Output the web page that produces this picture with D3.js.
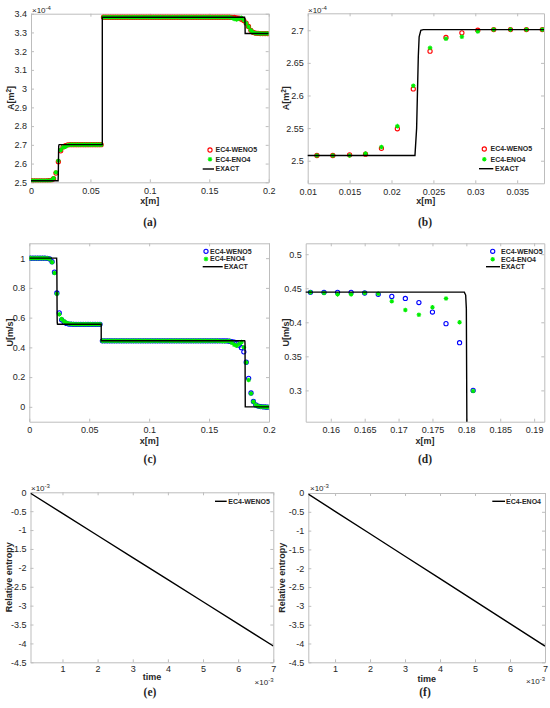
<!DOCTYPE html>
<html>
<head>
<meta charset="utf-8">
<script src="https://cdn.jsdelivr.net/npm/d3@7"></script>
<style>
body { margin: 0; background: #fff; }
svg text { font-family: "Liberation Sans", Arial, sans-serif; fill: #262626; }
.axis path, .axis line { stroke: #bdbdbd; }
</style>
</head>
<body>
<div id="chart"></div>
<script>

// mesh: 100 cells on a 0.2 m tube, values sampled at cell centres
const nCells = 100, tubeLength = 0.2;
const xCells = d3.range(nCells).map(k => (k + 0.5) * tubeLength / nCells);

// A [x1e-4 m^2]
const areaWeno5 = [
	2.508, 2.508, 2.508, 2.508, 2.508, 2.508, 2.508, 2.509, 2.510, 2.519,
	2.549, 2.610, 2.668, 2.689, 2.696, 2.700, 2.701, 2.701, 2.701, 2.701,
	2.701, 2.701, 2.701, 2.701, 2.701, 2.701, 2.701, 2.701, 2.701, 2.701,
	3.381, 3.381, 3.381, 3.381, 3.381, 3.381, 3.381, 3.381, 3.381, 3.381,
	3.381, 3.381, 3.381, 3.381, 3.381, 3.381, 3.381, 3.381, 3.381, 3.381,
	3.381, 3.381, 3.381, 3.381, 3.381, 3.381, 3.381, 3.381, 3.381, 3.381,
	3.381, 3.381, 3.381, 3.381, 3.381, 3.381, 3.381, 3.381, 3.381, 3.381,
	3.381, 3.381, 3.381, 3.381, 3.381, 3.381, 3.381, 3.381, 3.381, 3.381,
	3.381, 3.381, 3.381, 3.381, 3.380, 3.380, 3.378, 3.376, 3.371, 3.364,
	3.350, 3.332, 3.311, 3.300, 3.296, 3.295, 3.294, 3.294, 3.294, 3.294
];
const areaEno4 = [
	2.508, 2.508, 2.508, 2.508, 2.508, 2.508, 2.508, 2.508, 2.511, 2.521,
	2.553, 2.615, 2.673, 2.687, 2.690, 2.698, 2.701, 2.701, 2.701, 2.701,
	2.701, 2.701, 2.701, 2.701, 2.701, 2.701, 2.701, 2.701, 2.701, 2.701,
	3.381, 3.381, 3.381, 3.381, 3.381, 3.381, 3.381, 3.381, 3.381, 3.381,
	3.381, 3.381, 3.381, 3.381, 3.381, 3.381, 3.381, 3.381, 3.381, 3.381,
	3.381, 3.381, 3.381, 3.381, 3.381, 3.381, 3.381, 3.381, 3.381, 3.381,
	3.381, 3.381, 3.381, 3.381, 3.381, 3.381, 3.381, 3.381, 3.381, 3.381,
	3.381, 3.381, 3.381, 3.381, 3.381, 3.381, 3.381, 3.381, 3.381, 3.381,
	3.381, 3.381, 3.381, 3.381, 3.378, 3.372, 3.369, 3.373, 3.378, 3.366,
	3.349, 3.330, 3.311, 3.300, 3.296, 3.295, 3.294, 3.294, 3.294, 3.294
];
const areaExactX = [0, 0.0228, 0.0230, 0.0232, 0.0233, 0.0235, 0.0238, 0.06, 0.06, 0.1797, 0.1800, 0.1802, 0.2];
const areaExact  = [2.508, 2.508, 2.550, 2.660, 2.690, 2.700, 2.701, 2.701, 3.381, 3.381, 3.370, 3.294, 3.294];

// zoom of A around the first wave (panel b)
const zoomAX     = [0.0111, 0.0130, 0.0150, 0.0169, 0.0188, 0.0207, 0.0226, 0.0246, 0.0265, 0.0284, 0.0303, 0.0322, 0.0342, 0.0361, 0.0380];
const zoomAWeno5 = [2.508, 2.508, 2.509, 2.510, 2.519, 2.549, 2.610, 2.668, 2.689, 2.696, 2.700, 2.701, 2.701, 2.701, 2.701];
const zoomAEno4  = [2.508, 2.508, 2.508, 2.511, 2.521, 2.553, 2.615, 2.673, 2.687, 2.690, 2.698, 2.701, 2.701, 2.701, 2.701];

// U [m/s]
const velWeno5 = [
	1.000, 1.000, 1.000, 1.000, 1.000, 1.000, 1.000, 0.999, 0.995, 0.976,
	0.906, 0.766, 0.632, 0.585, 0.570, 0.561, 0.557, 0.556, 0.555, 0.555,
	0.555, 0.555, 0.555, 0.555, 0.555, 0.555, 0.555, 0.555, 0.555, 0.555,
	0.444, 0.444, 0.444, 0.444, 0.444, 0.444, 0.444, 0.444, 0.444, 0.444,
	0.444, 0.444, 0.444, 0.444, 0.444, 0.444, 0.444, 0.444, 0.444, 0.444,
	0.444, 0.444, 0.444, 0.444, 0.444, 0.444, 0.444, 0.444, 0.444, 0.444,
	0.444, 0.444, 0.444, 0.444, 0.444, 0.444, 0.444, 0.444, 0.444, 0.444,
	0.444, 0.444, 0.444, 0.444, 0.444, 0.444, 0.444, 0.444, 0.444, 0.444,
	0.444, 0.444, 0.443, 0.441, 0.438, 0.435, 0.429, 0.415, 0.398, 0.370,
	0.300, 0.192, 0.093, 0.036, 0.013, 0.005, 0.002, 0.000, -0.001, -0.002
];
const velEno4 = [
	1.000, 1.000, 1.000, 1.000, 1.000, 1.000, 1.000, 0.999, 0.994, 0.973,
	0.900, 0.760, 0.622, 0.590, 0.576, 0.565, 0.560, 0.557, 0.556, 0.555,
	0.555, 0.555, 0.555, 0.555, 0.555, 0.555, 0.555, 0.555, 0.555, 0.555,
	0.444, 0.444, 0.444, 0.444, 0.444, 0.444, 0.444, 0.444, 0.444, 0.444,
	0.444, 0.444, 0.444, 0.444, 0.444, 0.444, 0.444, 0.444, 0.444, 0.444,
	0.444, 0.444, 0.444, 0.444, 0.444, 0.444, 0.444, 0.444, 0.444, 0.444,
	0.444, 0.444, 0.444, 0.444, 0.444, 0.444, 0.444, 0.444, 0.444, 0.444,
	0.444, 0.444, 0.444, 0.444, 0.444, 0.444, 0.444, 0.444, 0.444, 0.443,
	0.441, 0.441, 0.443, 0.442, 0.431, 0.418, 0.411, 0.422, 0.435, 0.400,
	0.299, 0.180, 0.090, 0.035, 0.012, 0.004, 0.001, 0.000, -0.001, -0.002
];
const velExactX = [0, 0.0228, 0.0230, 0.0232, 0.0233, 0.0235, 0.0238, 0.06, 0.06, 0.1797, 0.1799, 0.1800, 0.1801, 0.1802, 0.2];
const velExact  = [1, 1, 0.950, 0.620, 0.570, 0.556, 0.555, 0.555, 0.4443, 0.4443, 0.440, 0.420, 0.200, 0, 0];

// relative entropy [x1e-3] vs time [x1e-3 s]
const timeWeno5 = [0.09, 1, 2, 3, 4, 5, 6, 7];
const entropyWeno5 = [-0.026, -0.558, -1.143, -1.728, -2.313, -2.898, -3.483, -4.068];
const timeEno4 = [0.235, 1, 2, 3, 4, 5, 6, 7];
const entropyEno4 = [-0.030, -0.487, -1.084, -1.681, -2.278, -2.875, -3.471, -4.068];

// tick labels
const xTicksFull = [0, 0.05, 0.1, 0.15, 0.2];
const yTicksArea = [2.5, 2.6, 2.7, 2.8, 2.9, 3, 3.1, 3.2, 3.3, 3.4];
const xTicksZoomA = [0.01, 0.015, 0.02, 0.025, 0.03, 0.035];
const yTicksZoomA = [2.5, 2.55, 2.6, 2.65, 2.7];
const yTicksVel = [0, 0.2, 0.4, 0.6, 0.8, 1];
const xTicksZoomU = [0.16, 0.165, 0.17, 0.175, 0.18, 0.185, 0.19];
const yTicksZoomU = [0.3, 0.35, 0.4, 0.45, 0.5];
const xTicksTime = [1, 2, 3, 4, 5, 6, 7];
const yTicksEntropy = [0, -0.5, -1, -1.5, -2, -2.5, -3, -3.5, -4, -4.5];

const zip = (xs, ys) => xs.map((v, i) => [v, ys[i]]);

const svg = d3.select("#chart").append("svg")
	.attr("width", 550)
	.attr("height", 708);

const legendSeries = {
	weno5A: {name: "EC4-WENO5", type: "circle", color: "#ff0000"},
	eno4: {name: "EC4-ENO4", type: "star", color: "#00ee00"},
	exact: {name: "EXACT", type: "line", color: "#000000"},
	weno5U: {name: "EC4-WENO5", type: "circle", color: "#0000ff"}
};

function starPath(s) {
	const d = s * 0.7;
	return `M${-s},0H${s}M0,${-s}V${s}M${-d},${-d}L${d},${d}M${-d},${d}L${d},${-d}`;
}

function drawMarker(g, type, color, cx, cy) {
	if (type === "circle") {
		g.append("circle").attr("cx", cx).attr("cy", cy).attr("r", 2.1)
			.attr("fill", "none").attr("stroke", color).attr("stroke-width", 1.1);
	} else if (type === "star") {
		g.append("path").attr("transform", `translate(${cx},${cy})`)
			.attr("d", starPath(2.3)).attr("fill", "none")
			.attr("stroke", color).attr("stroke-width", 1.1);
	}
}

function drawPanel(p) {
	const [x0, y0, x1, y1] = p.box;
	const x = d3.scaleLinear().domain(p.xDomain).range([x0, x1]);
	const y = d3.scaleLinear().domain(p.yDomain).range([y1, y0]);
	const g = svg.append("g");

	g.append("clipPath").attr("id", "clip-" + p.id)
		.append("rect").attr("x", x0).attr("y", y0).attr("width", x1 - x0).attr("height", y1 - y0);

	// box with inward ticks on all four sides
	const fmt = d => String(d);
	g.append("g").attr("class", "axis").attr("transform", `translate(0,${y1})`)
		.call(d3.axisBottom(x).tickValues(p.xTicks).tickSizeInner(-3).tickSizeOuter(0).tickPadding(p.xPad).tickFormat(fmt));
	g.append("g").attr("class", "axis").attr("transform", `translate(0,${y0})`)
		.call(d3.axisTop(x).tickValues(p.xTicks).tickSizeInner(-3).tickSizeOuter(0).tickFormat(""));
	g.append("g").attr("class", "axis").attr("transform", `translate(${x0},0)`)
		.call(d3.axisLeft(y).tickValues(p.yTicks).tickSizeInner(-3).tickSizeOuter(0).tickPadding(4).tickFormat(fmt));
	g.append("g").attr("class", "axis").attr("transform", `translate(${x1},0)`)
		.call(d3.axisRight(y).tickValues(p.yTicks).tickSizeInner(-3).tickSizeOuter(0).tickFormat(""));
	g.selectAll(".axis text").attr("font-size", 9).attr("fill", "#262626")
		.style("font-family", '"Liberation Sans", Arial, sans-serif');

	// data: lines are clipped, markers outside the x range are left out
	const plot = g.append("g").attr("clip-path", `url(#clip-${p.id})`);
	p.series.forEach(s => {
		const pts = zip(s.x, s.y);
		if (s.type === "line") {
			plot.append("path").datum(pts)
				.attr("d", d3.line().x(d => x(d[0])).y(d => y(d[1])))
				.attr("fill", "none").attr("stroke", s.color).attr("stroke-width", 1.4);
		} else {
			pts.filter(d => d[0] >= p.xDomain[0] - 1e-9 && d[0] <= p.xDomain[1] + 1e-9)
				.forEach(d => drawMarker(plot, s.type, s.color, x(d[0]), y(d[1])));
		}
	});

	// legend
	p.legend.forEach(item => {
		const s = legendSeries[item.key];
		if (s.type === "line") {
			g.append("line").attr("x1", item.lx0).attr("x2", item.lx1).attr("y1", item.y).attr("y2", item.y)
				.attr("stroke", "#000").attr("stroke-width", 1.4);
		} else {
			drawMarker(g, s.type, s.color, item.mx, item.y);
		}
		g.append("text").attr("x", item.tx).attr("y", item.y).attr("dy", "0.35em")
			.attr("font-size", 7).attr("font-weight", "bold").text(s.name);
	});

	// axis labels
	g.append("text").attr("x", (x0 + x1) / 2).attr("y", p.xLabelY).attr("dy", "0.35em")
		.attr("text-anchor", "middle").attr("font-size", 9).attr("font-weight", "bold")
		.text(p.xLabel);

	const yl = g.append("text").attr("transform", `translate(${p.yLabelX},${(y0 + y1) / 2}) rotate(-90)`)
		.attr("dy", "0.35em").attr("text-anchor", "middle").attr("font-size", 9).attr("font-weight", "bold");
	if (p.yLabelSup) {
		yl.append("tspan").text(p.yLabel);
		yl.append("tspan").attr("dy", -3).attr("font-size", 6.5).text(p.yLabelSup);
		yl.append("tspan").attr("dy", 3).text("]");
	} else {
		yl.text(p.yLabel);
	}

	// exponent labels
	p.exponents.forEach(e => {
		const t = g.append("text").attr("x", e.x).attr("y", e.y).attr("dy", "0.35em")
			.attr("font-size", 8).attr("fill", "#555").attr("text-anchor", e.anchor || "start");
		t.append("tspan").text("\u00d710");
		t.append("tspan").attr("dy", -3).attr("font-size", 6).text(e.pow);
	});

	// caption
	g.append("text").attr("x", p.caption[0]).attr("y", p.caption[1]).attr("dy", "0.35em")
		.attr("text-anchor", "middle").attr("font-size", 11.5).attr("font-weight", "bold")
		.style("font-family", '"Liberation Serif", "Times New Roman", serif')
		.text(p.caption[2]);
}

const panels = [
	{
		id: "a", box: [31, 13.7, 268.7, 182.3], xDomain: [0, 0.2], yDomain: [2.5, 3.4],
		xTicks: xTicksFull, yTicks: yTicksArea, xPad: 5,
		series: [
			{type: "circle", color: "#ff0000", x: xCells, y: areaWeno5},
			{type: "star", color: "#00ee00", x: xCells, y: areaEno4},
			{type: "line", color: "#000", x: areaExactX, y: areaExact}
		],
		legend: [
			{key: "weno5A", mx: 210, tx: 215.5, y: 150},
			{key: "eno4", mx: 210, tx: 215.5, y: 159.3},
			{key: "exact", lx0: 202.7, lx1: 214, tx: 215.5, y: 169}
		],
		xLabel: "x[m]", xLabelY: 201, yLabel: "A[m", yLabelSup: "2", yLabelX: 11,
		exponents: [{x: 32, y: 10, pow: "-4"}],
		caption: [150, 222, "(a)"]
	},
	{
		id: "b", box: [307.7, 13.3, 544, 183.3], xDomain: [0.01, 0.0382], yDomain: [2.4654, 2.726],
		xTicks: xTicksZoomA, yTicks: yTicksZoomA, xPad: 5,
		series: [
			{type: "circle", color: "#ff0000", x: zoomAX, y: zoomAWeno5},
			{type: "star", color: "#00ee00", x: zoomAX, y: zoomAEno4},
			{type: "line", color: "#000", x: areaExactX, y: areaExact}
		],
		legend: [
			{key: "weno5A", mx: 484.3, tx: 490.5, y: 149},
			{key: "eno4", mx: 484.3, tx: 490.5, y: 159.3},
			{key: "exact", lx0: 479, lx1: 493.3, tx: 495, y: 168.7}
		],
		xLabel: "x[m]", xLabelY: 201, yLabel: "A[m", yLabelSup: "2", yLabelX: 286,
		exponents: [{x: 308, y: 10, pow: "-4"}],
		caption: [425, 222, "(b)"]
	},
	{
		id: "c", box: [29.3, 243.3, 269, 421.7], xDomain: [0, 0.2], yDomain: [-0.1, 1.1],
		xTicks: xTicksFull, yTicks: yTicksVel, xPad: 5,
		series: [
			{type: "circle", color: "#0000ff", x: xCells, y: velWeno5},
			{type: "star", color: "#00ee00", x: xCells, y: velEno4},
			{type: "line", color: "#000", x: velExactX, y: velExact}
		],
		legend: [
			{key: "weno5U", mx: 206, tx: 210, y: 251.3},
			{key: "eno4", mx: 206, tx: 210, y: 259},
			{key: "exact", lx0: 202.7, lx1: 222.7, tx: 224, y: 266.7}
		],
		xLabel: "x[m]", xLabelY: 440.7, yLabel: "U[m/s]", yLabelX: 9.5,
		exponents: [],
		caption: [150, 459, "(c)"]
	},
	{
		id: "d", box: [305.7, 243.3, 544.3, 421.7], xDomain: [0.1563, 0.1915], yDomain: [0.254, 0.516],
		xTicks: xTicksZoomU, yTicks: yTicksZoomU, xPad: 5,
		series: [
			{type: "circle", color: "#0000ff", x: xCells, y: velWeno5},
			{type: "star", color: "#00ee00", x: xCells, y: velEno4},
			{type: "line", color: "#000", x: velExactX, y: velExact}
		],
		legend: [
			{key: "weno5U", mx: 492.7, tx: 501, y: 251.3},
			{key: "eno4", mx: 492.7, tx: 501, y: 259.3},
			{key: "exact", lx0: 486, lx1: 500, tx: 501, y: 266.7}
		],
		xLabel: "x[m]", xLabelY: 440.7, yLabel: "U[m/s]", yLabelX: 285.5,
		exponents: [],
		caption: [425, 459, "(d)"]
	},
	{
		id: "e", box: [30.5, 492.3, 273.3, 662.3], xDomain: [0.09, 7], yDomain: [-4.5, 0],
		xTicks: xTicksTime, yTicks: yTicksEntropy, xPad: 3.5,
		series: [
			{type: "line", color: "#000", x: timeWeno5, y: entropyWeno5}
		],
		legend: [
			{key: "exact", lx0: 215, lx1: 226.7, tx: 228.3, y: 501.3, name: "EC4-WENO5"}
		],
		xLabel: "time", xLabelY: 677, yLabel: "Relative entropy", yLabelX: 9,
		exponents: [{x: 31, y: 488, pow: "-3"}, {x: 273.5, y: 681.7, pow: "-3", anchor: "end"}],
		caption: [150, 692, "(e)"]
	},
	{
		id: "f", box: [308.3, 493, 545, 662.3], xDomain: [0.235, 7], yDomain: [-4.5, 0],
		xTicks: xTicksTime, yTicks: yTicksEntropy, xPad: 3.5,
		series: [
			{type: "line", color: "#000", x: timeEno4, y: entropyEno4}
		],
		legend: [
			{key: "exact", lx0: 492.3, lx1: 505, tx: 506, y: 501.3, name: "EC4-ENO4"}
		],
		xLabel: "time", xLabelY: 678.5, yLabel: "Relative entropy", yLabelX: 282,
		exponents: [{x: 310, y: 488, pow: "-3"}, {x: 545, y: 681.3, pow: "-3", anchor: "end"}],
		caption: [425, 692, "(f)"]
	}
];

// entropy panels reuse the line legend entry but with their own name
panels.forEach(p => {
	p.legend.forEach(item => {
		if (item.name) {
			legendSeries["line-" + item.name] = {name: item.name, type: "line", color: "#000"};
			item.key = "line-" + item.name;
		}
	});
	drawPanel(p);
});

</script>
</body>
</html>
